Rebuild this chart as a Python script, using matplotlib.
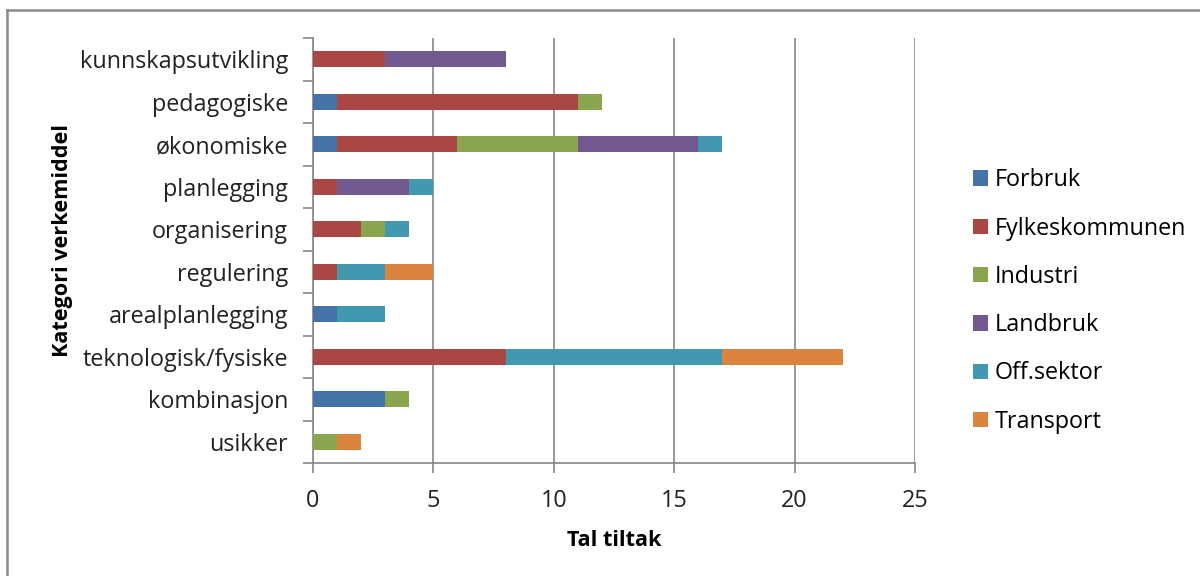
import matplotlib
matplotlib.use("Agg")
import matplotlib.pyplot as plt
from matplotlib.lines import Line2D
from matplotlib.patches import Patch
import numpy as np

categories = ["kunnskapsutvikling", "pedagogiske", "økonomiske", "planlegging",
              "organisering", "regulering", "arealplanlegging",
              "teknologisk/fysiske", "kombinasjon", "usikker"]

forbruk = [0, 1, 1, 0, 0, 0, 1, 0, 3, 0]
fylkeskommunen = [3, 10, 5, 1, 2, 1, 0, 8, 0, 0]
industri = [0, 1, 5, 0, 1, 0, 0, 0, 1, 1]
landbruk = [5, 0, 5, 3, 0, 0, 0, 0, 0, 0]
off_sektor = [0, 0, 1, 1, 1, 2, 2, 9, 0, 0]
transport = [0, 0, 0, 0, 0, 2, 0, 5, 0, 1]

series_names = ["Forbruk", "Fylkeskommunen", "Industri", "Landbruk",
                "Off.sektor", "Transport"]
series_values = [forbruk, fylkeskommunen, industri, landbruk, off_sektor, transport]
colors = ["#4572A7", "#AA4643", "#89A54E", "#71588F", "#4198AF", "#DB843D"]

x_ticks = [0, 5, 10, 15, 20, 25]

plt.rcParams["font.family"] = ["Open Sans", "DejaVu Sans"]
FS = 16.8
FS_TITLE = 15.6

W, H, DPI = 1200, 576, 100
fig = plt.figure(figsize=(W / DPI, H / DPI), dpi=DPI)
fig.patch.set_facecolor("white")

ax = fig.add_axes([313 / W, 1 - 463 / H, (915 - 313) / W, (463 - 38) / H])

grid_color = "#868686"
n = len(categories)
ypos = np.arange(n)[::-1]  # first category at top
left = np.zeros(n)
for name, vals, col in zip(series_names, series_values, colors):
    vals = np.array(vals, dtype=float)
    ax.barh(ypos, vals, left=left, height=0.38, color=col, label=name,
            edgecolor="none", zorder=3)
    left += vals

ax.set_xlim(0, 25)
ax.set_ylim(-0.5, n - 0.5)
ax.set_xticks(x_ticks)
ax.set_xticklabels([str(t) for t in x_ticks])
ax.xaxis.grid(True, color=grid_color, linewidth=1.2, zorder=0)
ax.set_axisbelow(True)

ax.set_yticks(ypos)
ax.set_yticklabels(categories)
ax.set_yticks(np.arange(n + 1) - 0.5, minor=True)
ax.tick_params(axis="y", which="major", length=0, pad=18, labelsize=FS,
               labelcolor="#222222")
ax.tick_params(axis="y", which="minor", length=7, width=1.2, color=grid_color)
ax.tick_params(axis="x", which="major", length=7, width=1.2, color=grid_color,
               pad=12, labelsize=FS, labelcolor="#222222")

for side in ["top", "right"]:
    ax.spines[side].set_visible(False)
for side in ["left", "bottom"]:
    ax.spines[side].set_color(grid_color)
    ax.spines[side].set_linewidth(1.2)

ax.set_xlabel("Tal tiltak", fontsize=FS_TITLE, fontweight="bold", labelpad=12)
ax.set_ylabel("Kategori verkemiddel", fontsize=FS_TITLE, fontweight="bold")
ax.yaxis.set_label_coords(73 / W, 1 - 240 / H, transform=fig.transFigure)

handles = [Patch(facecolor=c, edgecolor="none") for c in colors]
leg = fig.legend(handles, series_names, loc="upper left",
                 bbox_to_anchor=(964 / W, 1 - 159 / H),
                 frameon=False, fontsize=FS, handlelength=0.63,
                 handleheight=0.63, handletextpad=0.3, labelspacing=1.04,
                 borderaxespad=0)

# outer chart frame (top and left edges)
fig.add_artist(Line2D([7 / W, 1.0], [1 - 9.5 / H, 1 - 9.5 / H],
                      transform=fig.transFigure, color="#8a8a8a", linewidth=1.8))
fig.add_artist(Line2D([7 / W, 7 / W], [0.0, 1 - 9.5 / H],
                      transform=fig.transFigure, color="#8a8a8a", linewidth=1.8))

fig.savefig("out.png", dpi=DPI, facecolor="white")
